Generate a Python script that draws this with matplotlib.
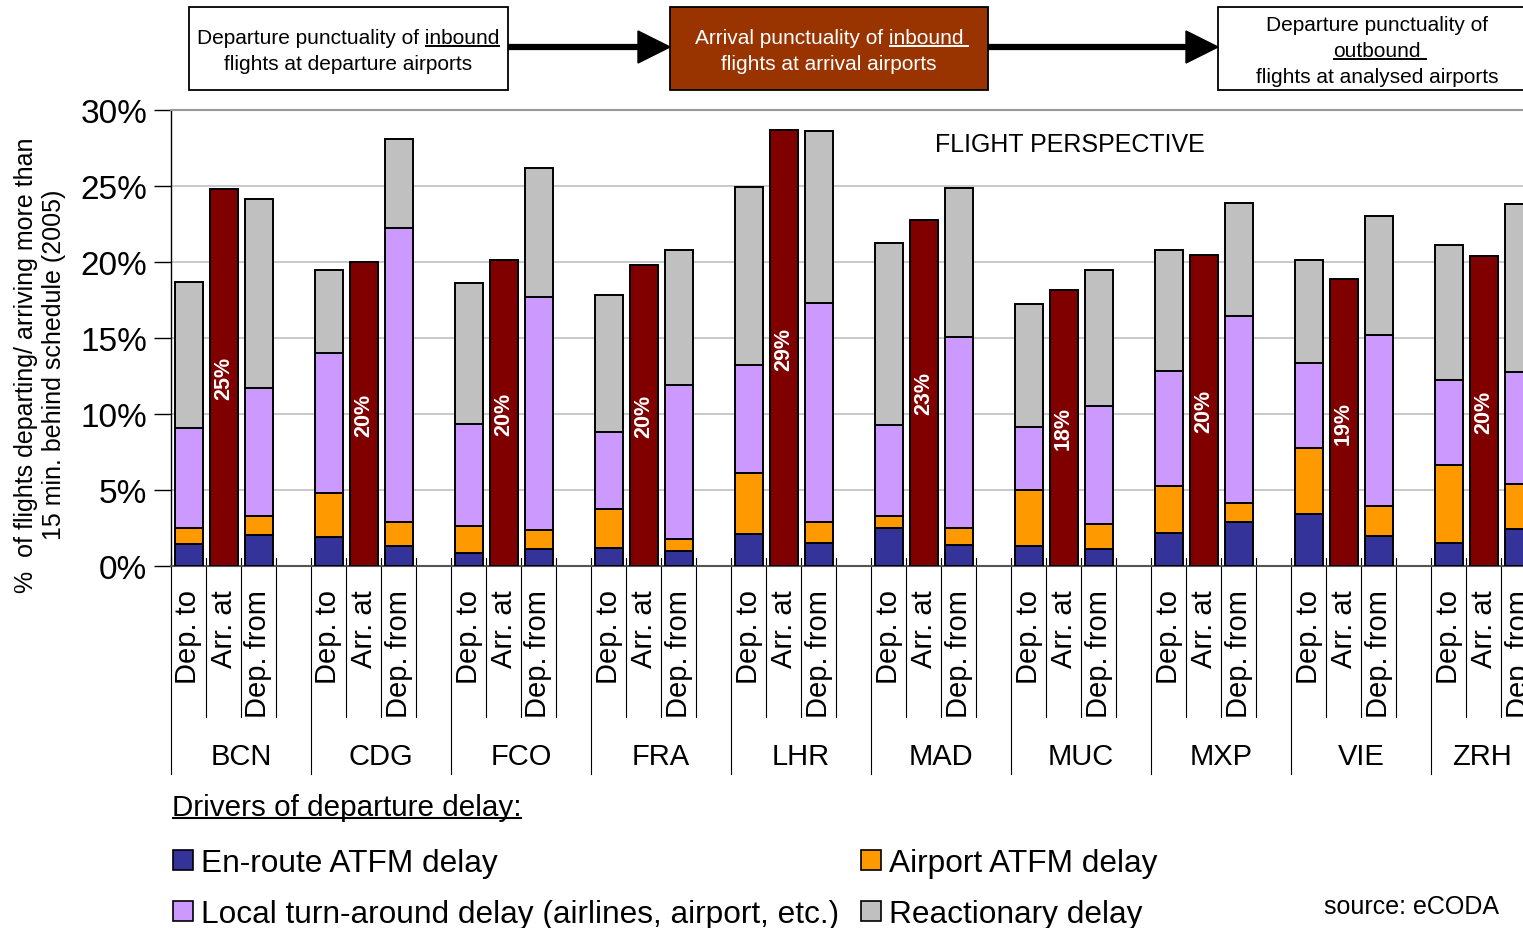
import numpy as np
import matplotlib
matplotlib.use('Agg')
import matplotlib.pyplot as plt
from matplotlib.patches import Rectangle, Polygon
from matplotlib.ticker import FuncFormatter

plt.rcParams['font.family'] = ['Liberation Sans', 'DejaVu Sans']

# data (% of flights > 15 min late, 2005)
airports = ['BCN', 'CDG', 'FCO', 'FRA', 'LHR', 'MAD', 'MUC', 'MXP', 'VIE', 'ZRH']
slot_labels = ['Dep. to', 'Arr. at', 'Dep. from']

# departure of inbound flights at departure airports ("Dep. to")
enroute_to = [1.45, 1.89, 0.86, 1.18, 2.10, 2.50, 1.34, 2.17, 3.44, 1.51]
airport_to = [1.05, 2.89, 1.79, 2.55, 4.00, 0.81, 3.68, 3.11, 4.30, 5.15]
local_to = [6.56, 9.22, 6.69, 5.11, 7.15, 5.94, 4.12, 7.57, 5.59, 5.60]
react_to = [9.60, 5.50, 9.26, 9.01, 11.68, 12.02, 8.10, 7.96, 6.80, 8.86]

# arrival of inbound flights ("Arr. at")
arrival = [24.8, 20.0, 20.1, 19.78, 28.68, 22.78, 18.16, 20.48, 18.86, 20.37]

# departure of outbound flights ("Dep. from")
enroute_from = [2.06, 1.34, 1.12, 0.99, 1.49, 1.40, 1.10, 2.89, 1.99, 2.46]
airport_from = [1.25, 1.53, 1.27, 0.79, 1.38, 1.08, 1.66, 1.23, 1.94, 2.91]
local_from = [8.42, 19.39, 15.33, 10.11, 14.41, 12.56, 7.74, 12.31, 11.25, 7.37]
react_from = [12.39, 5.84, 8.48, 8.92, 11.36, 9.81, 9.00, 7.45, 7.82, 11.10]

driver_names = ['En-route ATFM delay', 'Airport ATFM delay',
                'Local turn-around delay (airlines, airport, etc.)', 'Reactionary delay']
driver_colors = ['#333399', '#FF9900', '#CC99FF', '#C0C0C0']
arr_color = '#800000'

W, H = 1523, 929
fig = plt.figure(figsize=(W / 100, H / 100), dpi=100)

# main axes runs past the right edge of the figure (ZRH is cut off)
ax = fig.add_axes([171 / W, 1 - 567 / H, 1400 / W, 456 / H])
n = len(airports)
base = np.arange(n) * 4
pos_to = base + 0.5
pos_arr = base + 1.5
pos_from = base + 2.5


def stacked(pos, parts):
    bottom = np.zeros(n)
    for vals, col in zip(parts, driver_colors):
        vals = np.array(vals)
        ax.bar(pos, vals, 0.8, bottom=bottom, color=col, edgecolor='black',
               linewidth=1.4, zorder=3)
        bottom += vals


stacked(pos_to, [enroute_to, airport_to, local_to, react_to])
stacked(pos_from, [enroute_from, airport_from, local_from, react_from])
ax.bar(pos_arr, arrival, 0.8, color=arr_color, edgecolor='black', linewidth=1.4, zorder=3)
for p, v in zip(pos_arr, arrival):
    ax.text(p, v / 2, f'{v:.0f}%', rotation=90, ha='center', va='center',
            color='white', fontweight='bold', fontsize=15.5, zorder=4)

ax.set_xlim(0, 4 * n)
ax.set_ylim(0, 30)
ax.set_yticks(range(0, 31, 5))
ax.yaxis.set_major_formatter(FuncFormatter(lambda v, _: f'{v:.0f}%'))
ax.tick_params(axis='y', labelsize=24, length=12, width=1, pad=5)
ax.set_xticks([])
ax.yaxis.grid(True, color='#C0C0C0', linewidth=1.2)
ax.set_axisbelow(True)
ax.spines['right'].set_visible(False)
ax.spines['top'].set_color('#999999')
ax.spines['top'].set_linewidth(1.5)
ax.spines['left'].set_linewidth(1.0)
ax.spines['bottom'].set_color('#555555')
ax.spines['bottom'].set_linewidth(1.5)

# category separators and labels below the axis
xt = ax.get_xaxis_transform()
for g in range(n):
    for k in range(4):
        low = -0.456 if k == 0 else -0.331
        ax.plot([base[g] + k] * 2, [0.018, low], transform=xt, clip_on=False,
                color='black', lw=0.8)
    for j, lab in enumerate(slot_labels):
        ax.text(base[g] + j + 0.5, -0.05, lab, rotation=90, ha='center', va='top',
                fontsize=21, transform=xt, clip_on=False)
    # centre the group name in the visible part of the group
    right = min(base[g] + 4, (W - 171) / 35 + 0.3)
    ax.text((base[g] + right) / 2, -0.417, airports[g], ha='center', va='center',
            fontsize=21, transform=xt, clip_on=False)

# overlay in pixel coordinates for header, legend and notes
ov = fig.add_axes([0, 0, 1, 1], zorder=5)
ov.set_xlim(0, W)
ov.set_ylim(H, 0)
ov.axis('off')
ov.patch.set_alpha(0)
renderer = fig.canvas.get_renderer()


def text_width(s, size, **kw):
    t = ov.text(0, 0, s, fontsize=size, **kw)
    w = t.get_window_extent(renderer).width
    t.remove()
    return w


def underlined_line(x, y, s, word, size, color, extra=0.0, ha='center', **kw):
    t = ov.text(x, y, s, ha=ha, va='baseline', fontsize=size, color=color, **kw)
    bb = t.get_window_extent(renderer)
    ww = text_width(word, size, **kw)
    ov.plot([bb.x1 - ww, bb.x1 + extra], [y + 3, y + 3], color=color, lw=1.4,
            solid_capstyle='butt')


hs = 15
ov.add_patch(Rectangle((189, 8), 319, 83, fc='white', ec='black', lw=1.3))
underlined_line(348.5, 43.5, 'Departure punctuality of inbound', 'inbound', hs, 'black')
ov.text(348.5, 69.5, 'flights at departure airports', ha='center', va='baseline',
        fontsize=hs)

ov.add_patch(Rectangle((670, 8), 318, 83, fc='#993300', ec='black', lw=1.3))
underlined_line(829, 43.5, 'Arrival punctuality of inbound', 'inbound', hs, 'white',
                extra=6)
ov.text(829, 69.5, 'flights at arrival airports', ha='center', va='baseline',
        fontsize=hs, color='white')

ov.add_patch(Rectangle((1218, 8), 318, 83, fc='white', ec='black', lw=1.3))
ov.text(1377, 30.5, 'Departure punctuality of', ha='center', va='baseline', fontsize=hs)
underlined_line(1377, 56.5, 'outbound', 'outbound', hs, 'black', extra=6)
ov.text(1377, 82.5, 'flights at analysed airports', ha='center', va='baseline',
        fontsize=hs)

for x0, x1 in [(508, 670), (988, 1218)]:
    ov.plot([x0, x1 - 30], [48, 48], color='black', lw=4.5, solid_capstyle='butt')
    ov.add_patch(Polygon([(x1 - 32, 32), (x1, 48), (x1 - 32, 64)], closed=True,
                         fc='black', ec='black'))

ov.text(935, 152, 'FLIGHT PERSPECTIVE', ha='left', va='baseline', fontsize=18)

fig.text(40 / W, 1 - 365 / H,
         '%  of flights departing/ arriving more than\n15 min. behind schedule (2005)',
         rotation=90, ha='center', va='center', multialignment='center', fontsize=18)

# legend
t = ov.text(172, 816, 'Drivers of departure delay:', ha='left', va='baseline',
            fontsize=21.3)
bb = t.get_window_extent(renderer)
ov.plot([bb.x0, bb.x1], [819, 819], color='black', lw=1.5, solid_capstyle='butt')

leg_pos = [(173, 861), (861, 861), (173, 912), (861, 912)]
for (lx, ly), name, col in zip(leg_pos, driver_names, driver_colors):
    ov.add_patch(Rectangle((lx, ly - 10), 20, 20, fc=col, ec='black', lw=1.2))
    ov.text(lx + 28, ly + 11, name, ha='left', va='baseline', fontsize=22.8)

ov.text(1324, 914, 'source: eCODA', ha='left', va='baseline', fontsize=18)

fig.savefig('out.png', dpi=100)
